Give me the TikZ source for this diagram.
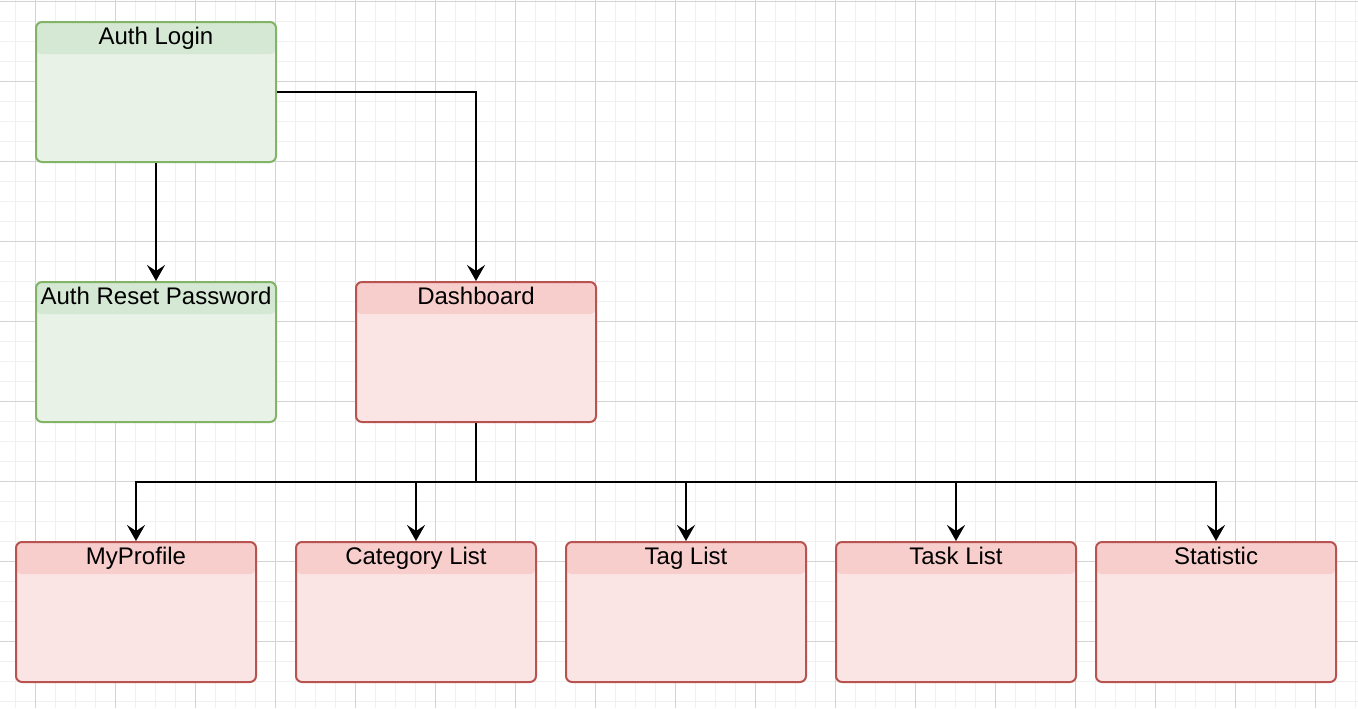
\documentclass[tikz,border=0pt]{standalone}
\usepackage{fontspec}
\setmainfont{Liberation Sans}
\usetikzlibrary{arrows.meta}
\definecolor{gridminor}{HTML}{F0F0F0}
\definecolor{gridmajor}{HTML}{D3D3D3}
\definecolor{greenhead}{HTML}{D5E8D4}
\definecolor{greenbody}{HTML}{E8F2E7}
\definecolor{greenline}{HTML}{82B366}
\definecolor{redhead}{HTML}{F8CECC}
\definecolor{redbody}{HTML}{FBE5E4}
\definecolor{redline}{HTML}{B85450}

\begin{document}
\begin{tikzpicture}[x=0.5pt,y=-0.5pt]
	\tikzstyle{every node}+=[inner sep=0pt]
	\tikzstyle{screen}=[rectangle, rounded corners=3pt, line width=1pt, minimum width=120pt, minimum height=70pt]
	\tikzstyle{greenscreen}=[screen, draw=greenline, fill=greenbody, path picture={\fill[greenhead] (path picture bounding box.north west) rectangle ([yshift=-16pt]path picture bounding box.north east);}]
	\tikzstyle{redscreen}=[screen, draw=redline, fill=redbody, path picture={\fill[redhead] (path picture bounding box.north west) rectangle ([yshift=-16pt]path picture bounding box.north east);}]
	\tikzstyle{title}=[anchor=base, yshift=-11.5pt, font=\fontsize{12pt}{14pt}\selectfont]
	\tikzstyle{link}=[black, line width=1pt, -{Stealth[length=8pt,width=9pt,inset=3pt]}]
	\useasboundingbox (0,0) rectangle (1358,708);
	\fill [white] (0,0) rectangle (1358,708);
	% grid
	\foreach \i in {0,...,67}
		\draw [gridminor, line width=0.5pt] (15.7+20*\i,0) -- (15.7+20*\i,708);
	\foreach \i in {0,...,35}
		\draw [gridminor, line width=0.5pt] (0,1+20*\i) -- (1358,1+20*\i);
	\foreach \i in {0,...,16}
		\draw [gridmajor, line width=0.5pt] (35.7+80*\i,0) -- (35.7+80*\i,708);
	\foreach \i in {0,...,8}
		\draw [gridmajor, line width=0.5pt] (0,1+80*\i) -- (1358,1+80*\i);
	% screens
	\node [greenscreen, label={[title]north:Auth Login}] (login) at (156,92) {};
	\node [greenscreen, label={[title]north:Auth Reset Password}] (reset) at (156,352) {};
	\node [redscreen, label={[title]north:Dashboard}] (dashboard) at (476,352) {};
	\node [redscreen, label={[title]north:MyProfile}] (profile) at (136,612) {};
	\node [redscreen, label={[title]north:Category List}] (category) at (416,612) {};
	\node [redscreen, label={[title]north:Tag List}] (tag) at (686,612) {};
	\node [redscreen, label={[title]north:Task List}] (task) at (956,612) {};
	\node [redscreen, label={[title]north:Statistic}] (statistic) at (1216,612) {};
	% links
	\draw [link] (login) -- (reset);
	\draw [link] (login.east) -| (dashboard.north);
	\coordinate (bus) at (476,482);
	\draw [black, line width=1pt] (dashboard.south) -- (bus);
	\foreach \n in {profile,category,tag,task,statistic}
		\draw [link] (bus) -| (\n.north);
\end{tikzpicture}
\end{document}
